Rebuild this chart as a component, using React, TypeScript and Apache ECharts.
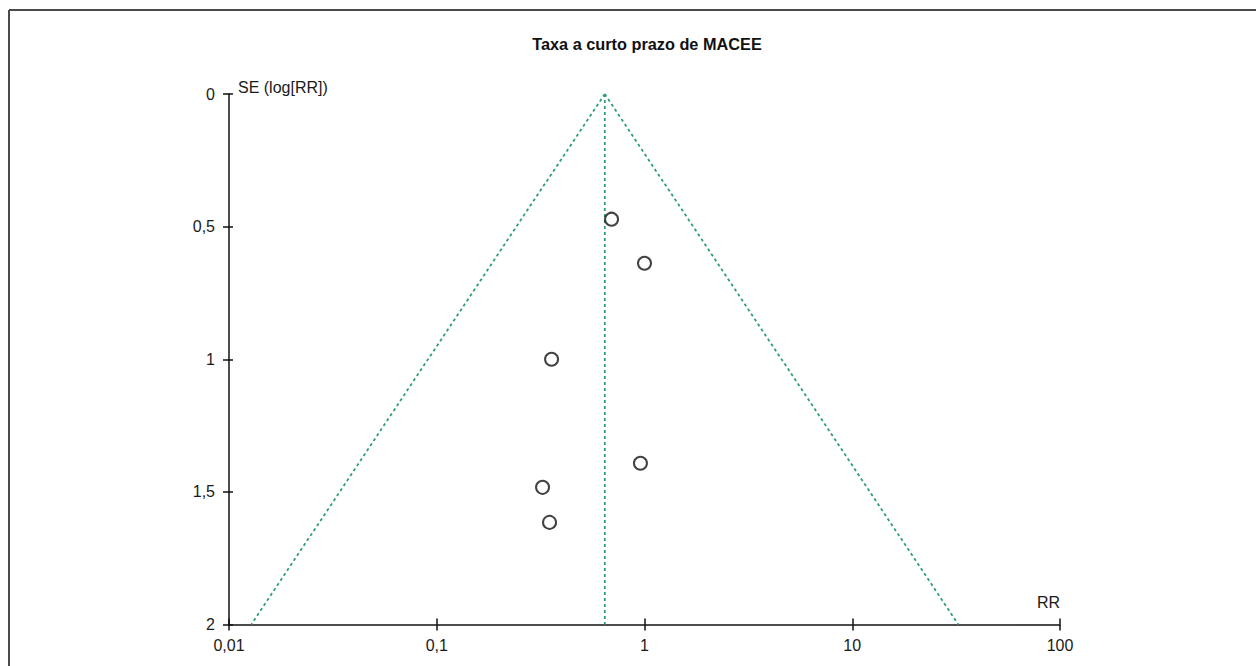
import React, { useEffect, useRef } from "react";
import * as echarts from "echarts";

// Study points: [RR, SE(log[RR])]
const studyRR = [0.694, 1.0, 0.357, 0.956, 0.323, 0.349];
const studySE = [0.472, 0.638, 1.0, 1.392, 1.483, 1.615];

// Pooled estimate and funnel limits
const pooledRR = 0.644;
const seMax = 2;
const funnelLowerRR = 0.0128;
const funnelUpperRR = 32.4;

const xTicks = [0.01, 0.1, 1, 10, 100];
const yTicks = [0, 0.5, 1, 1.5, 2];

const titleText = "Taxa a curto prazo de MACEE";
const yName = "SE (log[RR])";
const xName = "RR";

const FONT = "'Liberation Sans', Arial, sans-serif";
const GREEN = "#2f9e72";

function fmt(v: number): string {
  const n = Number(v.toPrecision(4));
  return String(n).replace(".", ",");
}

export default function App() {
  const ref = useRef<HTMLDivElement>(null);
  useEffect(() => {
    if (!ref.current) return;
    const chart = echarts.init(ref.current, undefined, { renderer: "svg" });
    const dashed = {
      type: "line",
      symbol: "none",
      silent: true,
      lineStyle: { color: GREEN, width: 1.8, type: [3, 3] },
      z: 1,
    };
    chart.setOption({
      animation: false,
      backgroundColor: "#ffffff",
      textStyle: { fontFamily: FONT },
      title: {
        text: titleText,
        left: 642,
        top: 31,
        textAlign: "center",
        textStyle: { fontFamily: FONT, fontSize: 16.3, fontWeight: "bold", color: "#111" },
      },
      grid: { left: 229, right: 196, top: 94, bottom: 41.5 },
      xAxis: [
        {
          type: "log",
          logBase: 10,
          min: xTicks[0],
          max: xTicks[xTicks.length - 1],
          position: "bottom",
          axisLine: { show: true, onZero: false, lineStyle: { color: "#111", width: 1.5 } },
          axisTick: { show: true, length: 6, lineStyle: { color: "#111", width: 1.5 } },
          axisLabel: { show: true, margin: 13, fontSize: 16, color: "#1a1a1a", fontFamily: FONT, formatter: (v: number) => fmt(v) },
          splitLine: { show: false },
          minorTick: { show: false },
        },
        {
          type: "log",
          logBase: 10,
          min: xTicks[0],
          max: xTicks[xTicks.length - 1],
          position: "bottom",
          axisLine: { show: false, onZero: false },
          axisTick: { show: true, inside: true, length: 6, lineStyle: { color: "#111", width: 1.5 } },
          axisLabel: { show: false },
          splitLine: { show: false },
        },
      ],
      yAxis: [
        {
          type: "value",
          inverse: true,
          min: yTicks[0],
          max: yTicks[yTicks.length - 1],
          interval: 0.5,
          position: "left",
          axisLine: { show: true, onZero: false, lineStyle: { color: "#111", width: 1.5 } },
          axisTick: { show: true, length: 6, lineStyle: { color: "#111", width: 1.5 } },
          axisLabel: { show: true, margin: 14, fontSize: 16, color: "#1a1a1a", fontFamily: FONT, formatter: (v: number) => fmt(v) },
          splitLine: { show: false },
        },
        {
          type: "value",
          inverse: true,
          min: yTicks[0],
          max: yTicks[yTicks.length - 1],
          interval: 0.5,
          position: "left",
          axisLine: { show: false, onZero: false },
          axisTick: { show: true, inside: true, length: 4, lineStyle: { color: "#111", width: 1.5 } },
          axisLabel: { show: false },
          splitLine: { show: false },
        },
      ],
      graphic: [
        { type: "line", shape: { x1: 9, y1: 10, x2: 1256, y2: 10 }, style: { stroke: "#4a4a4a", lineWidth: 2 } },
        { type: "line", shape: { x1: 9, y1: 10, x2: 9, y2: 666 }, style: { stroke: "#4a4a4a", lineWidth: 2 } },
        {
          type: "text",
          left: 238,
          top: 79,
          style: { text: yName, fontSize: 16, fontFamily: FONT, fill: "#1a1a1a" },
        },
        {
          type: "text",
          right: 196,
          top: 594,
          style: { text: xName, fontSize: 16, fontFamily: FONT, fill: "#1a1a1a", textAlign: "right" },
        },
      ],
      series: [
        { ...dashed, data: [[pooledRR, 0], [funnelLowerRR, seMax]] },
        { ...dashed, data: [[pooledRR, 0], [funnelUpperRR, seMax]] },
        { ...dashed, data: [[pooledRR, 0], [pooledRR, seMax]] },
        {
          type: "scatter",
          symbol: "circle",
          symbolSize: 13,
          itemStyle: { color: "#ffffff", borderColor: "#111", borderWidth: 2 },
          data: studyRR.map((r, i) => [r, studySE[i]]),
          z: 3,
        },
      ],
    });
    return () => chart.dispose();
  }, []);
  return (
    <div
      ref={ref}
      style={{ position: "fixed", left: 0, top: 0, width: 1256, height: 666 }}
    />
  );
}
